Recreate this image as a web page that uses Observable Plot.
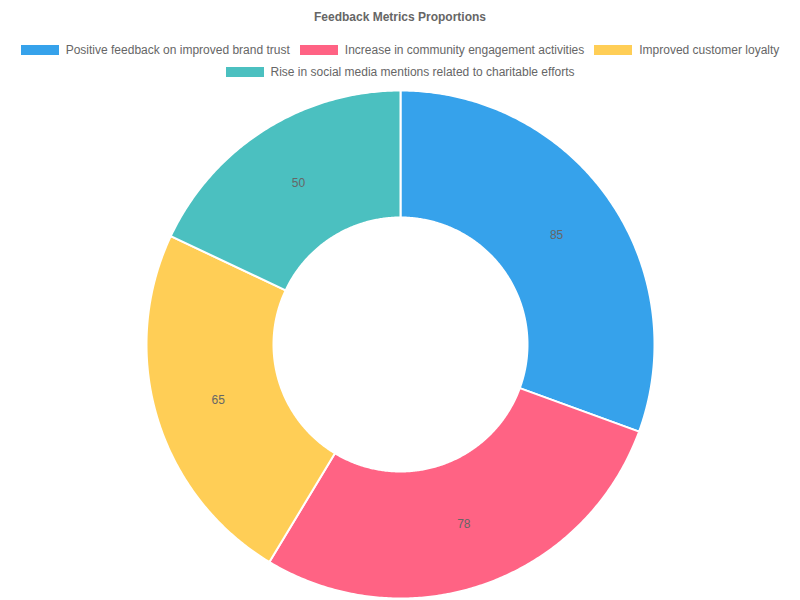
<!DOCTYPE html>
<html>
<head>
<meta charset="utf-8">
<script src="https://cdn.jsdelivr.net/npm/d3@7"></script>
<script src="https://cdn.jsdelivr.net/npm/@observablehq/plot@0.6"></script>
<style>
  html, body { margin: 0; padding: 0; background: #fff; }
  body { width: 800px; height: 600px; font-family: "Liberation Sans", Arial, Helvetica, sans-serif; color: #666; overflow: hidden; }
  #title { height: 34px; line-height: 34px; text-align: center; font-size: 12px; font-weight: bold; color: #666; }
  #legend { height: 52px; box-sizing: border-box; padding-top: 5px; }
  .row { height: 22px; display: flex; justify-content: center; align-items: center; }
  .item { display: flex; align-items: center; font-size: 12px; color: #666; margin: 0 5px; white-space: nowrap; }
  .box { width: 38px; height: 10px; margin-right: 7px; }
  #chart svg { display: block; }
</style>
</head>
<body>
<div id="title"></div>
<div id="legend"></div>
<div id="chart"></div>
<script>
const title = "Feedback Metrics Proportions";
const categories = [
  "Positive feedback on improved brand trust",
  "Increase in community engagement activities",
  "Improved customer loyalty",
  "Rise in social media mentions related to charitable efforts"
];
const values = [85, 78, 65, 50];
const colors = ["#36A2EB", "#FF6384", "#FFCE56", "#4BC0C0"];
const legendRows = [[0, 1, 2], [3]];

document.getElementById("title").textContent = title;
const legend = document.getElementById("legend");
for (const row of legendRows) {
  const r = document.createElement("div");
  r.className = "row";
  for (const i of row) {
    const it = document.createElement("div");
    it.className = "item";
    const b = document.createElement("span");
    b.className = "box";
    b.style.background = colors[i];
    const t = document.createElement("span");
    t.textContent = categories[i];
    it.appendChild(b); it.appendChild(t);
    r.appendChild(it);
  }
  legend.appendChild(r);
}

const W = 800, H = 514;
const cx = 400, cy = 258, R = 254, r0 = 127;
const pie = d3.pie().sort(null).startAngle(0).endAngle(2 * Math.PI);
const arcs = pie(values);

const polys = [];
const labels = [];
arcs.forEach((a, i) => {
  const cat = categories[i];
  const n = Math.max(2, Math.ceil((a.endAngle - a.startAngle) / (Math.PI / 360)));
  const pt = (ang, rad) => ({cat, x: cx + rad * Math.sin(ang), y: cy - rad * Math.cos(ang)});
  for (let k = 0; k <= n; k++) polys.push(pt(a.startAngle + (a.endAngle - a.startAngle) * k / n, R));
  for (let k = n; k >= 0; k--) polys.push(pt(a.startAngle + (a.endAngle - a.startAngle) * k / n, r0));
  const mid = (a.startAngle + a.endAngle) / 2;
  const lr = (R + r0) / 2;
  labels.push({value: values[i], x: cx + lr * Math.sin(mid), y: cy - lr * Math.cos(mid)});
});

const plot = Plot.plot({
  width: W, height: H,
  margin: 0,
  x: {domain: [0, W], range: [0, W], axis: null},
  y: {domain: [0, H], range: [0, H], axis: null},
  color: {domain: categories, range: colors},
  marks: [
    Plot.line(polys, {x: "x", y: "y", z: "cat", fill: "cat", stroke: "#fff", strokeWidth: 2, curve: "linear-closed"}),
    Plot.text(labels, {x: "x", y: "y", text: d => String(d.value), fill: "#666", fontSize: 12, fontFamily: "Liberation Sans, Arial, sans-serif"})
  ]
});
document.getElementById("chart").appendChild(plot);
</script>
</body>
</html>
